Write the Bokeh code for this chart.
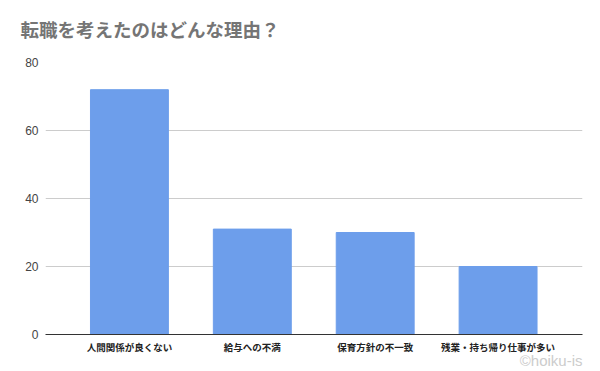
from bokeh.plotting import figure
from bokeh.models import ColumnDataSource, Range1d, FixedTicker, Title
from bokeh.embed import file_html
from bokeh.resources import INLINE

categories = ["人間関係が良くない", "給与への不満", "保育方針の不一致", "残業・持ち帰り仕事が多い"]
values = [72, 31, 30, 20]
y_ticks = [0, 20, 40, 60, 80]

xs = list(range(len(categories)))
src = ColumnDataSource(dict(x=xs, top=values))

p = figure(width=600, height=371, output_backend="svg", toolbar_location=None,
           x_range=Range1d(-0.683, 3.687), y_range=Range1d(0, 80),
           min_border_left=45, min_border_right=18, min_border_top=62, min_border_bottom=37)
p.outline_line_color = None
p.background_fill_color = "white"
p.border_fill_color = "white"

p.title.text = "転職を考えたのはどんな理由？"
p.title.text_font = "Noto Sans CJK JP"
p.title.text_font_style = "bold"
p.title.text_font_size = "18.5px"
p.title.text_color = "#757575"
p.title.align = "left"
p.title.offset = -25

spacer = Title(text=" ", text_font_size="12px", standoff=0)
p.add_layout(spacer, "above")

p.vbar(x="x", top="top", width=0.634, bottom=0, source=src, color="#6d9eeb")

p.xgrid.grid_line_color = None
p.ygrid.grid_line_color = "#cccccc"
p.ygrid.ticker = FixedTicker(ticks=y_ticks)

p.xaxis.ticker = FixedTicker(ticks=xs)
p.xaxis.major_label_overrides = {i: c for i, c in enumerate(categories)}
p.xaxis.major_label_text_font = "Noto Sans CJK JP"
p.xaxis.major_label_text_font_style = "bold"
p.xaxis.major_label_text_font_size = "9.5px"
p.xaxis.major_label_text_color = "#222222"
p.xaxis.axis_line_color = "#333333"
p.xaxis.major_tick_line_color = None
p.xaxis.minor_tick_line_color = None
p.xaxis.major_tick_out = 0
p.xaxis.major_label_standoff = 5

p.yaxis.ticker = FixedTicker(ticks=y_ticks)
p.yaxis.axis_line_color = None
p.yaxis.major_tick_line_color = None
p.yaxis.minor_tick_line_color = None
p.yaxis.major_tick_out = 0
p.yaxis.major_label_text_font = "Liberation Sans"
p.yaxis.major_label_text_font_size = "12px"
p.yaxis.major_label_text_color = "#444444"
p.yaxis.major_label_standoff = 7

wm = Title(text="©hoiku-is", align="right", text_font="Liberation Sans",
           text_font_size="15px", text_font_style="normal", text_color="#cccccc",
           standoff=-14)
p.add_layout(wm, "below")

open("out.html", "w").write(file_html(p, INLINE))
